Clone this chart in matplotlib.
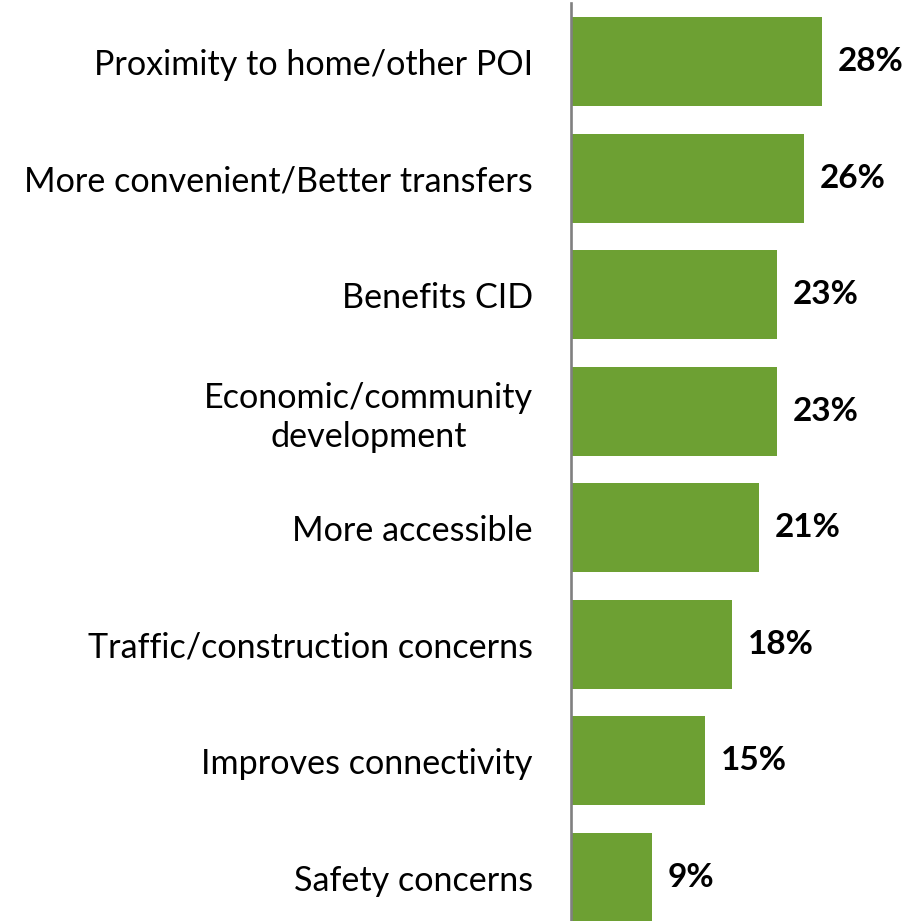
import matplotlib
matplotlib.use("Agg")
import matplotlib.pyplot as plt

categories = [
    "Proximity to home/other POI",
    "More convenient/Better transfers",
    "Benefits CID",
    "Economic/community\ndevelopment",
    "More accessible",
    "Traffic/construction concerns",
    "Improves connectivity",
    "Safety concerns",
]
values = [28, 26, 23, 23, 21, 18, 15, 9]
value_labels = ["28%", "26%", "23%", "23%", "21%", "18%", "15%", "9%"]

BAR_COLOR = "#6DA033"
AXIS_COLOR = "#808080"
FONT = ["Lato", "DejaVu Sans"]

W, H = 917, 921
fig = plt.figure(figsize=(W / 100, H / 100), dpi=100)
ax_left = 571 / W
ax_top = 3 / H
ax = fig.add_axes([ax_left, 0, 1 - ax_left, 1 - ax_top])

pos = list(range(len(categories)))
ax.barh(pos, values, height=0.763, color=BAR_COLOR, zorder=2)

ax.set_xlim(0, 346 / 8.95)
ax.set_ylim(7.373, -0.502)

for s in ["top", "right", "bottom"]:
    ax.spines[s].set_visible(False)
ax.spines["left"].set_color(AXIS_COLOR)
ax.spines["left"].set_linewidth(1.9)
ax.spines["left"].set_zorder(3)
ax.set_xticks([])
ax.set_yticks(pos)
ax.set_yticklabels(categories, family=FONT, fontsize=24.6, multialignment="center",
                   linespacing=1.25)
ax.tick_params(axis="y", length=0, pad=27.4)

for y, v, lab in zip(pos, values, value_labels):
    ax.annotate(lab, xy=(v, y), xytext=(16, 0), textcoords="offset pixels",
                ha="left", va="center", fontsize=24, fontweight="bold",
                family=FONT, color="black")

fig.savefig("out.png", dpi=100, facecolor="white")
